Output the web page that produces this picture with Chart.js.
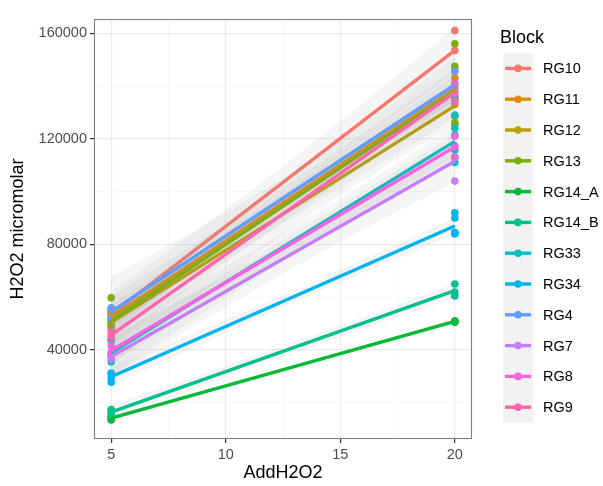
<!DOCTYPE html>
<html>
<head>
<meta charset="utf-8">
<script src="https://cdn.jsdelivr.net/npm/chart.js@4"></script>
<style>
html,body{margin:0;padding:0;background:#fff;}
#wrap{position:relative;width:603px;height:486px;}
</style>
</head>
<body>
<div id="wrap"><canvas id="c" width="603" height="486"></canvas></div>
<script>
// ---- data ----
const blocks = ["RG10","RG11","RG12","RG13","RG14_A","RG14_B","RG33","RG34","RG4","RG7","RG8","RG9"];
const blockColors = ["#F8766D","#DE8C00","#B79F00","#7CAE00","#00BA38","#00C08B","#00BFC4","#00B4F0","#619CFF","#C77CFF","#F564E3","#FF64B0"];
// H2O2 micromolar measured at AddH2O2 = 5
const at5 = {
  RG10:[51500,54000,55000],
  RG11:[50000,53500,54000],
  RG12:[48000,51000,52500],
  RG13:[59800,49200,44000],
  RG14_A:[13500,14200,14900],
  RG14_B:[15500,16500,17500],
  RG33:[35500,38000,43500],
  RG34:[27800,29500,31000,31300],
  RG4:[56000,55500,52000],
  RG7:[36500,38000,38000],
  RG8:[41500,39000,39000],
  RG9:[47000,45500,44500]
};
// H2O2 micromolar measured at AddH2O2 = 20
const at20 = {
  RG10:[161000,153500,146000],
  RG11:[143000,139000,135000],
  RG12:[136000,133000,128500],
  RG13:[156000,147500,135000,126000,125500],
  RG14_A:[50500,51000,51000],
  RG14_B:[65000,62000,60500],
  RG33:[129000,124000,121500,115800,111000,113000],
  RG34:[92000,90000,84500,84000,84500],
  RG4:[145500,140000,136000],
  RG7:[117500,113000,104000],
  RG8:[121000,117000,113000],
  RG9:[141000,137500,134000]
};
const xLevels = [5,20];
const xMajorTicks = [5,10,15,20];
const xMinorTicks = [7.5,12.5,17.5];
const yMajorTicks = [40000,80000,120000,160000];
const yMinorTicks = [20000,60000,100000,140000];
const xTitle = "AddH2O2";
const yTitle = "H2O2 micromolar";
const legendTitle = "Block";

// t quantiles (0.975) by degrees of freedom for the 95% confidence band
const tQ = {1:12.706,2:4.303,3:3.182,4:2.776,5:2.571,6:2.447,7:2.365,8:2.306,9:2.262,10:2.228,11:2.201,12:2.179};

function fit(xs, ys){
  const n = xs.length;
  const mx = xs.reduce((a,b)=>a+b,0)/n, my = ys.reduce((a,b)=>a+b,0)/n;
  let sxx=0, sxy=0;
  for(let i=0;i<n;i++){sxx+=(xs[i]-mx)**2; sxy+=(xs[i]-mx)*(ys[i]-my);}
  const b = sxy/sxx, a = my-b*mx;
  let sse=0; for(let i=0;i<n;i++){sse+=(ys[i]-a-b*xs[i])**2;}
  const df = n-2, s = Math.sqrt(sse/df);
  return {a,b,mx,sxx,n,s,t:tQ[df]||1.96};
}

const datasets = [];
const font = "'Liberation Sans', Arial, Helvetica, sans-serif";

// points
blocks.forEach((bk,i)=>{
  const pts = [];
  at5[bk].forEach(v=>pts.push({x:xLevels[0],y:v}));
  at20[bk].forEach(v=>pts.push({x:xLevels[1],y:v}));
  datasets.push({type:'scatter',label:bk+' pts',data:pts,showLine:false,
    pointRadius:3.8,pointHoverRadius:3.8,pointBackgroundColor:blockColors[i],pointBorderWidth:0,
    order:1000-i});
});
// ribbons + lines
blocks.forEach((bk,i)=>{
  const xs=[],ys=[];
  at5[bk].forEach(v=>{xs.push(xLevels[0]);ys.push(v);});
  at20[bk].forEach(v=>{xs.push(xLevels[1]);ys.push(v);});
  const f = fit(xs,ys);
  const up=[],lo=[],ln=[];
  const steps=40;
  for(let k=0;k<=steps;k++){
    const x = xLevels[0]+(xLevels[1]-xLevels[0])*k/steps;
    const yh = f.a+f.b*x;
    const se = f.s*Math.sqrt(1/f.n+(x-f.mx)**2/f.sxx);
    up.push({x,y:yh+f.t*se}); lo.push({x,y:yh-f.t*se});
  }
  ln.push({x:xLevels[0],y:f.a+f.b*xLevels[0]},{x:xLevels[1],y:f.a+f.b*xLevels[1]});
  datasets.push({type:'scatter',label:bk+' up',data:up,showLine:true,borderWidth:0,pointRadius:0,
    borderColor:'rgba(0,0,0,0)',backgroundColor:'rgba(153,153,153,0.10)',fill:'+1',order:500-3*i});
  datasets.push({type:'scatter',label:bk+' lo',data:lo,showLine:true,borderWidth:0,pointRadius:0,
    borderColor:'rgba(0,0,0,0)',fill:false,order:499-3*i});
  datasets.push({type:'scatter',label:bk,data:ln,showLine:true,borderWidth:3.4,pointRadius:0,
    borderColor:blockColors[i],fill:false,order:498-3*i});
});

const isIn = (arr,v)=>arr.some(t=>Math.abs(t-v)<1e-9);

const frame = {
  id:'frame',
  afterDatasetsDraw(chart){
    const {ctx,chartArea:a} = chart;
    ctx.save();
    ctx.strokeStyle='#7f7f7f'; ctx.lineWidth=1.1;
    ctx.strokeRect(a.left+0.5,a.top+0.5,a.right-a.left-1,a.bottom-a.top-1);
    ctx.restore();
  },
  afterDraw(chart){
    const ctx = chart.ctx;
    ctx.save();
    ctx.fillStyle='#000';
    ctx.font='18px '+font;
    ctx.textBaseline='middle'; ctx.textAlign='left';
    ctx.fillText(legendTitle,500,38);
    const top=53, h=30.8;
    ctx.fillStyle='#F2F2F2';
    ctx.fillRect(503,top,30,h*blocks.length);
    blocks.forEach((bk,i)=>{
      const cy = top+h*i+h/2;
      ctx.strokeStyle=blockColors[i]; ctx.lineWidth=3.4;
      ctx.beginPath(); ctx.moveTo(505,cy); ctx.lineTo(531,cy); ctx.stroke();
      ctx.fillStyle=blockColors[i];
      ctx.beginPath(); ctx.arc(518,cy,3.8,0,Math.PI*2); ctx.fill();
      ctx.fillStyle='#000'; ctx.font='14.5px '+font;
      ctx.fillText(bk,543,cy+1);
    });
    ctx.restore();
  }
};

new Chart(document.getElementById('c'),{
  type:'scatter',
  data:{datasets},
  plugins:[frame],
  options:{
    responsive:false,animation:false,
    layout:{padding:{left:0,right:131,top:19,bottom:0}},
    plugins:{legend:{display:false},tooltip:{enabled:false},filler:{propagate:false}},
    scales:{
      x:{type:'linear',min:4.25,max:20.75,
        afterBuildTicks(s){s.ticks=[...xMajorTicks,...xMinorTicks].sort((p,q)=>p-q).map(v=>({value:v}));},
        afterFit(s){s.height=47;},
        ticks:{autoSkip:false,maxRotation:0,color:'#4D4D4D',font:{family:font,size:14.5},padding:3,
          callback:(v)=>isIn(xMajorTicks,v)?String(v):''},
        grid:{color:(c)=>isIn(xMajorTicks,c.tick.value)?'#EBEBEB':'#F5F5F5',lineWidth:(c)=>isIn(xMajorTicks,c.tick.value)?1.2:0.8,
          tickLength:4,tickColor:(c)=>isIn(xMajorTicks,c.tick.value)?'#333333':'rgba(0,0,0,0)',drawTicks:true},
        border:{display:false},
        title:{display:true,text:xTitle,color:'#000',font:{family:font,size:18},padding:{top:0,bottom:2}}
      },
      y:{type:'linear',min:6300,max:165400,
        afterBuildTicks(s){s.ticks=[...yMinorTicks,...yMajorTicks].sort((p,q)=>p-q).map(v=>({value:v}));},
        afterFit(s){s.width=94;},
        ticks:{autoSkip:false,color:'#4D4D4D',font:{family:font,size:14.5},padding:3,
          callback:(v)=>isIn(yMajorTicks,v)?String(v):''},
        grid:{color:(c)=>isIn(yMajorTicks,c.tick.value)?'#EBEBEB':'#F5F5F5',lineWidth:(c)=>isIn(yMajorTicks,c.tick.value)?1.2:0.8,
          tickLength:4,tickColor:(c)=>isIn(yMajorTicks,c.tick.value)?'#333333':'rgba(0,0,0,0)',drawTicks:true},
        border:{display:false},
        title:{display:true,text:yTitle,color:'#000',font:{family:font,size:18},padding:{top:7,bottom:0}}
      }
    }
  }
});
</script>
</body>
</html>
